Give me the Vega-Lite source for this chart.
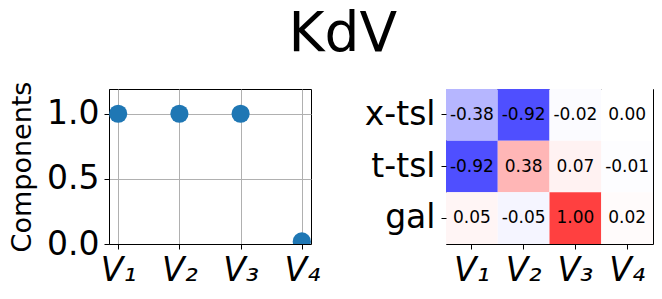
{
  "$schema": "https://vega.github.io/schema/vega-lite/v6.json",
  "padding": {"left": 8, "top": 6, "right": 3, "bottom": 3},
  "background": "white",
  "title": {"text": "KdV", "fontSize": 55, "fontWeight": "normal", "font": "DejaVu Sans", "color": "black", "anchor": "middle", "offset": 18, "dx": 12},
  "config": {
    "font": "DejaVu Sans",
    "view": {"stroke": "black", "strokeWidth": 1},
    "axis": {
      "domainColor": "black",
      "tickColor": "black",
      "tickSize": 5,
      "labelColor": "black",
      "labelFontSize": 33,
      "labelFont": "DejaVu Sans",
      "titleFontSize": 27,
      "titleFontWeight": "normal",
      "titleColor": "black",
      "titleFont": "DejaVu Sans",
      "gridColor": "#b0b0b0",
      "gridWidth": 1,
      "labelPadding": 5
    }
  },
  "hconcat": [
    {
      "width": 202,
      "height": 155,
      "data": {"values": [
        {"comp": "V₁", "val": 1.0},
        {"comp": "V₂", "val": 1.0},
        {"comp": "V₃", "val": 1.0},
        {"comp": "V₄", "val": 0.02}
      ]},
      "mark": {"type": "circle", "size": 330, "color": "#1f77b4", "opacity": 1, "clip": true},
      "encoding": {
        "x": {"field": "comp", "type": "nominal", "sort": null,
              "scale": {"type": "point", "padding": 0.15},
              "axis": {"title": null, "labelAngle": 0, "grid": true, "labelFontStyle": "italic"}},
        "y": {"field": "val", "type": "quantitative",
              "scale": {"domain": [0, 1.19], "nice": false},
              "axis": {"values": [0, 0.5, 1.0], "format": ".1f", "title": "Components", "grid": true, "titlePadding": 10}}
      }
    },
    {
      "width": 207,
      "height": 155,
      "data": {"values": [
        {"comp": "V₁", "group": "x-tsl", "val": -0.38},
        {"comp": "V₂", "group": "x-tsl", "val": -0.92},
        {"comp": "V₃", "group": "x-tsl", "val": -0.02},
        {"comp": "V₄", "group": "x-tsl", "val": 0.0},
        {"comp": "V₁", "group": "t-tsl", "val": -0.92},
        {"comp": "V₂", "group": "t-tsl", "val": 0.38},
        {"comp": "V₃", "group": "t-tsl", "val": 0.07},
        {"comp": "V₄", "group": "t-tsl", "val": -0.01},
        {"comp": "V₁", "group": "gal", "val": 0.05},
        {"comp": "V₂", "group": "gal", "val": -0.05},
        {"comp": "V₃", "group": "gal", "val": 1.0},
        {"comp": "V₄", "group": "gal", "val": 0.02}
      ]},
      "encoding": {
        "x": {"field": "comp", "type": "nominal", "sort": ["V₁", "V₂", "V₃", "V₄"],
              "axis": {"title": null, "labelAngle": 0, "labelFontStyle": "italic", "domain": false}},
        "y": {"field": "group", "type": "nominal", "sort": ["x-tsl", "t-tsl", "gal"],
              "axis": {"title": null, "domain": false, "labelPadding": 6}}
      },
      "layer": [
        {
          "mark": {"type": "rect"},
          "encoding": {
            "color": {"field": "val", "type": "quantitative",
                      "scale": {"type": "linear", "domain": [-1, 0, 1], "range": ["#4040ff", "#ffffff", "#ff4040"], "interpolate": "rgb", "zero": false, "nice": false},
                      "legend": null}
          }
        },
        {
          "mark": {"type": "text", "fontSize": 17, "color": "black", "font": "DejaVu Sans",
                   "text": {"expr": "replace(format(datum.val, '.2f'), '−', '-')"}},
          "encoding": {}
        }
      ]
    }
  ],
  "spacing": 42
}
